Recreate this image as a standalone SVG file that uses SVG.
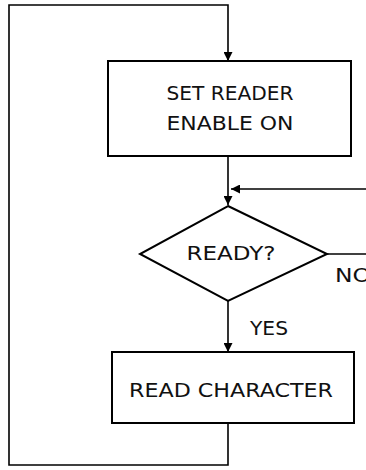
<svg xmlns="http://www.w3.org/2000/svg" width="366" height="470" viewBox="0 0 366 470">
<style>
.box{fill:#fff;stroke:#000;stroke-width:2}
.ln{fill:none;stroke:#000;stroke-width:1.6}
.t{font-family:"DejaVu Sans","Liberation Sans",sans-serif;font-size:19px;fill:#111;text-anchor:middle}
.tl{font-family:"DejaVu Sans","Liberation Sans",sans-serif;font-size:19px;fill:#111}
</style>
<defs>
<marker id="ah" viewBox="0 0 10 10" refX="10" refY="5" markerWidth="9" markerHeight="9" markerUnits="userSpaceOnUse" orient="auto">
<path d="M0,0 L10,5 L0,10 Z" fill="#000"/>
</marker>
</defs>
<g id="connectors">
<path class="ln" d="M228,423 V465 H9 V5 H228 V61" marker-end="url(#ah)"/>
<path class="ln" d="M228,156 V205" marker-end="url(#ah)"/>
<path class="ln" d="M366,189 H231" marker-end="url(#ah)"/>
<path class="ln" d="M327,254 H366"/>
<path class="ln" d="M228,301 V352" marker-end="url(#ah)"/>
<text class="tl" x="335" y="282" textLength="36" lengthAdjust="spacingAndGlyphs">NO</text>
<text class="tl" x="250" y="335" textLength="38" lengthAdjust="spacingAndGlyphs">YES</text>
</g>
<g id="node-set-reader">
<rect class="box" x="108" y="61" width="243" height="95"/>
<text class="t" x="230" y="100" textLength="127" lengthAdjust="spacingAndGlyphs">SET READER</text>
<text class="t" x="230" y="130" textLength="127" lengthAdjust="spacingAndGlyphs">ENABLE ON</text>
</g>
<g id="node-ready">
<polygon class="box" points="228,206 327,254 228,301 140,254"/>
<text class="t" x="231" y="260" textLength="89" lengthAdjust="spacingAndGlyphs">READY?</text>
</g>
<g id="node-read-char">
<rect class="box" x="112" y="352" width="242" height="71"/>
<text class="t" x="231" y="397" textLength="204" lengthAdjust="spacingAndGlyphs">READ CHARACTER</text>
</g>
</svg>
